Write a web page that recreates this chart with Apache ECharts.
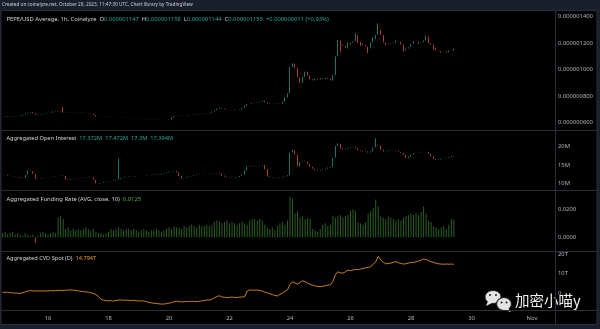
<!DOCTYPE html>
<html>
<head>
<meta charset="utf-8">
<title>PEPE/USD Average, 1h, Coinalyze</title>
<script src="https://cdn.jsdelivr.net/npm/echarts@6/dist/echarts.min.js"></script>
<style>
  html, body { margin: 0; padding: 0; background: #1b1f2b; }
  #chart { width: 600px; height: 329px; }
</style>
</head>
<body>
<div id="chart"></div>
<script>
// Two-hour bars from Oct 14 2023 12:00 UTC to Oct 29 10:00 UTC
const BAR_START = Date.UTC(2023, 9, 14, 12);
const BAR_STEP = 2 * 3600 * 1000;

// PEPE/USD closes, in nano-USD (1e-9 USD)
const pepeOpenFirst = 644;
const pepeClose = [
  645,648,643,646,644,647,650,655,662,670,
  676,680,672,662,658,662,666,670,672,676,
  686,690,684,680,676,678,680,678,679,677,
  678,676,674,673,671,668,658,648,646,645,
  644,643,645,642,641,640,639,637,636,635,
  634,633,632,631,628,627,626,624,622,621,
  620,622,620,619,621,623,625,640,650,652,
  654,656,657,655,658,657,660,662,665,668,
  671,670,675,685,695,705,713,708,702,698,
  696,694,698,696,700,712,728,742,740,748,
  752,756,760,766,755,746,742,741,743,740,
  744,760,790,822,1020,1045,1010,940,900,945,
  985,955,928,920,932,925,935,930,938,932,
  918,960,1100,1220,1190,1180,1165,1190,1205,1215,
  1260,1200,1195,1186,1175,1160,1205,1230,1262,1300,
  1262,1205,1200,1196,1200,1205,1208,1211,1190,1145,
  1160,1170,1195,1207,1205,1210,1206,1220,1250,1200,
  1188,1165,1145,1140,1136,1138,1131,1145,1147,1155
];
// [bar index, high, low] where the wick reaches beyond the body
const pepeWicks = [
  [24,716,null],[115,1048,null],[118,null,897],[133,1224,null],[134,null,1136],
  [137,1205,1160],[140,1274,null],[142,1210,1180],[145,null,1124],[147,1245,null],
  [149,1350,null],[152,null,1185],[156,1220,null],[159,null,1136],[163,1215,null],
  [165,null,1195],[168,1258,null],[171,null,1150],[174,null,1128],[179,1158,1144]
];

// Aggregated open interest closes, millions
const oiOpenFirst = 12.2;
const oiClose = [
  12.2,12.3,12.1,12.0,11.9,11.8,11.7,11.5,11.4,12.3,
  13.5,13.3,12.6,11.2,11.3,11.4,11.5,11.6,11.6,11.7,
  11.8,11.9,12.0,12.1,12.0,11.0,10.9,11.1,11.2,11.3,
  11.4,11.5,11.6,11.7,11.8,11.7,11.0,10.0,9.9,10.1,
  10.3,10.4,10.5,10.6,10.8,11.0,11.1,11.4,11.6,11.8,
  11.9,12.0,11.9,12.0,12.0,12.1,12.1,12.2,12.3,12.2,
  12.4,12.5,12.4,12.6,12.8,13.0,13.2,13.3,13.4,13.0,
  12.0,11.4,11.5,11.7,11.9,12.0,12.2,12.3,12.4,12.4,
  12.5,12.5,12.6,12.6,12.7,12.8,12.6,12.1,11.8,11.6,
  11.5,11.4,11.5,11.7,12.0,12.3,13.5,14.6,14.8,14.7,
  14.6,14.7,14.8,15.0,13.8,11.9,11.7,11.6,11.5,11.4,
  11.5,11.7,11.9,12.2,18.4,19.0,17.8,14.6,15.8,16.0,
  15.9,15.2,14.5,14.0,13.6,13.4,13.6,13.8,14.0,14.3,
  14.5,17.0,20.2,20.8,19.5,19.2,19.4,19.7,19.9,20.0,
  19.6,19.0,18.8,18.6,18.7,18.4,18.7,19.8,20.5,20.3,
  19.2,18.7,18.8,19.0,19.1,19.1,18.9,18.6,18.3,17.8,
  16.9,17.3,17.8,18.2,18.3,18.4,18.5,18.6,18.5,18.0,
  17.3,16.6,16.4,16.5,16.7,16.8,16.9,17.1,17.372,17.394
];
const oiWicks = [
  [46,16.8,null],[115,19.3,null],[133,20.9,null],[148,22.3,null],[179,17.472,17.3]
];

// Aggregated funding rate (AVG, close, 10)
const fundingRate = [
  0.003,0.004,0.002,0.003,0.004,0.002,0.003,0.002,0.001,0.003,
  0.002,0.001,0.002,-0.004,0.001,0.003,0.004,0.003,0.002,0.003,
  0.004,0.003,0.014,0.015,0.013,0.006,0.007,0.005,0.006,0.005,
  0.006,0.005,0.006,0.007,0.006,0.005,0.006,0.004,0.003,0.003,
  0.002,0.003,0.004,0.006,0.005,0.006,0.007,0.006,0.005,0.006,
  0.006,0.005,0.006,0.005,0.004,0.005,0.006,0.005,0.004,0.005,
  0.005,0.006,0.005,0.004,0.005,0.006,0.007,0.006,0.008,0.007,
  0.007,0.006,0.008,0.007,0.008,0.009,0.008,0.007,0.009,0.008,
  0.008,0.009,0.008,0.009,0.011,0.012,0.011,0.010,0.011,0.012,
  0.010,0.011,0.010,0.009,0.010,0.011,0.010,0.009,0.012,0.013,
  0.013,0.012,0.013,0.012,0.009,0.007,0.006,0.007,0.005,0.008,
  0.010,0.011,0.009,0.012,0.029,0.028,0.017,0.019,0.014,0.015,
  0.013,0.014,0.013,0.006,0.005,0.004,0.006,0.009,0.010,0.008,
  0.009,0.015,0.014,0.015,0.016,0.014,0.015,0.016,0.019,0.020,
  0.019,0.011,0.010,0.009,0.011,0.017,0.019,0.021,0.027,0.022,
  0.015,0.014,0.013,0.015,0.014,0.013,0.012,0.013,0.012,0.014,
  0.015,0.016,0.017,0.016,0.017,0.016,0.018,0.022,0.017,0.012,
  0.011,0.008,0.007,0.006,0.007,0.008,0.006,0.009,0.013,0.0125
];

// Aggregated spot CVD, trillions
const cvdSpot = [
  0.6,0.5,0.6,0.4,0.3,0.2,0.1,0.0,0.3,0.8,
  1.2,1.4,1.3,1.2,1.3,1.2,1.3,1.2,1.3,1.4,
  1.3,1.5,1.5,1.6,1.5,1.6,1.7,1.8,1.6,1.5,
  1.3,1.1,0.9,0.8,0.6,0.3,0.0,-0.6,-1.5,-3.0,
  -3.4,-3.6,-3.8,-3.7,-3.9,-3.6,-3.4,-3.3,-3.5,-3.4,
  -3.5,-3.6,-3.5,-3.7,-3.8,-3.9,-3.8,-4.2,-4.6,-4.8,
  -5.0,-5.1,-5.3,-5.4,-5.4,-5.2,-5.0,-4.6,-4.3,-4.0,
  -4.2,-4.3,-4.2,-4.1,-4.2,-4.0,-4.1,-4.2,-4.0,-3.8,
  -3.6,-3.3,-3.4,-3.0,-2.2,-1.6,-1.2,-1.8,-2.0,-2.1,
  -2.0,-1.9,-2.0,-2.1,-1.9,-1.8,-1.7,1.2,1.8,1.7,
  1.6,1.7,1.5,1.2,0.6,0.3,-0.2,-0.6,-1.0,-1.3,
  -0.5,0.2,1.0,1.8,4.5,5.9,5.2,4.8,5.6,6.4,
  6.0,5.2,4.6,4.2,3.8,3.5,3.4,3.6,3.9,4.2,
  4.3,6.0,9.5,11.0,10.4,10.3,11.0,11.8,11.6,11.9,
  12.2,12.0,12.4,12.7,13.0,13.2,13.6,14.8,16.0,18.8,
  17.0,15.8,15.0,15.2,15.4,15.8,16.1,15.6,15.2,14.9,
  15.1,15.4,15.7,15.8,16.0,16.4,16.9,17.4,17.2,16.6,
  16.1,15.7,15.3,15.0,14.9,14.8,14.9,14.8,14.9,14.794
];

// Axis ticks
const dateTicks = [16, 18, 20, 22, 24, 26, 28, 30].map(d => Date.UTC(2023, 9, d)).concat([Date.UTC(2023, 10, 1)]);
const priceTicks = [600, 800, 1000, 1200, 1400];
const oiTicks = [10, 15, 20];
const fundingTicks = [0, 0.02];
const cvdTicks = [0, 10, 20];

const X_MIN = Date.UTC(2023, 9, 14, 11, 30);
const X_MAX = Date.UTC(2023, 10, 1, 18, 15);

const UP = '#26a69a', DOWN = '#ef5350';
const TEXT = '#d1d4dc', AXIS_TEXT = '#b2b5be', FRAME = '#2a2e39';
const FUND_GREEN = '#4caf50', CVD_ORANGE = '#f39c1f', CVD_LINE = '#e08d22';
const FONT = '"Noto Sans", "Open Sans", sans-serif';

// Font size that makes a string span a given pixel width
const measureCtx = document.createElement('canvas').getContext('2d');
function fitSize(text, width) {
  measureCtx.font = '20px ' + FONT;
  return 20 * width / measureCtx.measureText(text).width;
}

const barTime = i => BAR_START + i * BAR_STEP;

function buildCandles(open0, closes, wicks) {
  const ext = {};
  wicks.forEach(([i, h, l]) => { ext[i] = [h, l]; });
  return closes.map((c, i) => {
    const o = i === 0 ? open0 : closes[i - 1];
    const w = ext[i] || [null, null];
    const hi = w[0] != null ? w[0] : Math.max(o, c);
    const lo = w[1] != null ? w[1] : Math.min(o, c);
    return [barTime(i), o, c, lo, hi];
  });
}

const pepeCandles = buildCandles(pepeOpenFirst, pepeClose, pepeWicks);
const oiCandles = buildCandles(oiOpenFirst, oiClose, oiWicks);
const fundingBars = fundingRate.map((v, i) => [barTime(i), v]);
const cvdLine = cvdSpot.map((v, i) => [barTime(i), v]);

const lastPepe = pepeCandles[pepeCandles.length - 1];
const lastOi = oiCandles[oiCandles.length - 1];
const lastFunding = fundingRate[fundingRate.length - 1];
const lastCvd = cvdSpot[cvdSpot.length - 1];

const fmtNano = v => (v / 1e9).toFixed(9);
const fmtM = v => (+v.toFixed(3)) + 'M';

const AXIS_SIZE = fitSize('0.000001400', 35);

function xAxisFor(gridIndex, showLabels) {
  return {
    type: 'value', gridIndex, min: X_MIN, max: X_MAX,
    axisLine: { show: false }, axisTick: { show: false }, splitLine: { show: false },
    axisLabel: {
      show: showLabels, customValues: dateTicks, color: AXIS_TEXT, fontSize: AXIS_SIZE,
      fontFamily: FONT, margin: 5,
      formatter: v => {
        const d = new Date(v);
        return d.getUTCDate() === 1 ? 'Nov' : String(d.getUTCDate());
      }
    }
  };
}

function yAxisFor(gridIndex, min, max, ticks, formatter) {
  return {
    type: 'value', gridIndex, position: 'right', min, max,
    axisLine: { show: false }, axisTick: { show: false }, splitLine: { show: false },
    axisLabel: { customValues: ticks, formatter, color: AXIS_TEXT, fontSize: AXIS_SIZE, fontFamily: FONT, margin: 3 }
  };
}

function lastValueTag(value, text, bg, fg) {
  return {
    symbol: 'none', silent: true, animation: false, z: 20,
    lineStyle: { opacity: 0 },
    label: {
      position: 'end', distance: 0, formatter: text, backgroundColor: bg, color: fg,
      fontSize: AXIS_SIZE, fontFamily: FONT, fontWeight: 'bold', padding: [1, 2, 1, 2]
    },
    data: [{ yAxis: value }]
  };
}

const candleStyle = {
  color: UP, color0: DOWN, borderColor: UP, borderColor0: DOWN, borderWidth: 0.7
};

const hline = y => ({ type: 'line', shape: { x1: 1, y1: y, x2: 597, y2: y }, style: { stroke: FRAME, lineWidth: 1 }, z: 50, silent: true });

// Pane legend: segments of [style key, text]; the whole line is sized to a target width
function title(y, segments, width) {
  const plain = segments.map(s => s[1]).join('');
  const size = fitSize(plain, width);
  const esc = t => t.replace(/[{}|]/g, '');
  const palette = { w: TEXT, g: UP, f: FUND_GREEN, o: CVD_ORANGE };
  const rich = {};
  Object.keys(palette).forEach(k => { rich[k] = { fill: palette[k], fontSize: size, fontFamily: FONT }; });
  return {
    type: 'text', x: 6.5, y, z: 60,
    style: {
      text: segments.map(s => '{' + s[0] + '|' + esc(s[1]) + '}').join(''),
      verticalAlign: 'middle', fontSize: size, fontFamily: FONT, rich
    }
  };
}

const headerText = 'Created on coinalyze.net, October 29, 2023, 11:47:30 UTC, Chart library by TradingView';

const option = {
  animation: false,
  backgroundColor: '#1b1f2b',
  textStyle: { fontFamily: FONT },
  grid: [
    { left: 2, top: 12, width: 553, height: 118 },
    { left: 2, top: 131, width: 553, height: 59 },
    { left: 2, top: 191, width: 553, height: 60 },
    { left: 2, top: 252, width: 553, height: 58 }
  ],
  xAxis: [xAxisFor(0, false), xAxisFor(1, false), xAxisFor(2, false), xAxisFor(3, true)],
  yAxis: [
    yAxisFor(0, 545, 1435, priceTicks, fmtNano),
    yAxisFor(1, 8.17, 24.29, oiTicks, v => v + 'M'),
    yAxisFor(2, -0.0098, 0.0331, fundingTicks, v => v.toFixed(4)),
    yAxisFor(3, -8.43, 21.02, cvdTicks, v => v === 0 ? '0' : v + 'T')
  ],
  series: [
    {
      name: 'PEPE/USD', type: 'candlestick', xAxisIndex: 0, yAxisIndex: 0,
      data: pepeCandles, encode: { x: 0, y: [1, 2, 3, 4] }, barWidth: 1.1,
      itemStyle: candleStyle,
      markLine: lastValueTag(lastPepe[2], fmtNano(lastPepe[2]), UP, '#ffffff')
    },
    {
      name: 'Aggregated Open Interest', type: 'candlestick', xAxisIndex: 1, yAxisIndex: 1,
      data: oiCandles, encode: { x: 0, y: [1, 2, 3, 4] }, barWidth: 1.1,
      itemStyle: candleStyle,
      markLine: lastValueTag(lastOi[2], fmtM(lastOi[2]), UP, '#ffffff')
    },
    {
      name: 'Aggregated Funding Rate', type: 'bar', xAxisIndex: 2, yAxisIndex: 2,
      data: fundingBars, barWidth: 1,
      itemStyle: { color: p => p.value[1] < 0 ? '#b03a36' : '#2a5f20' },
      markLine: lastValueTag(lastFunding, lastFunding.toFixed(4), FUND_GREEN, '#ffffff')
    },
    {
      name: 'Aggregated CVD Spot', type: 'line', xAxisIndex: 3, yAxisIndex: 3,
      data: cvdLine, showSymbol: false, symbol: 'none',
      lineStyle: { color: CVD_LINE, width: 0.9 },
      markLine: lastValueTag(lastCvd, lastCvd.toFixed(3) + 'T', CVD_ORANGE, '#000000')
    }
  ],
  graphic: [
    { type: 'rect', shape: { x: 1, y: 10.5, width: 596, height: 314 }, style: { fill: '#000000', stroke: FRAME, lineWidth: 1 }, z: -100, silent: true },
    hline(130.5), hline(190.5), hline(251.5), hline(310.5),
    { type: 'line', shape: { x1: 555.5, y1: 10.5, x2: 555.5, y2: 324.5 }, style: { stroke: FRAME, lineWidth: 1 }, z: 50, silent: true },
    {
      type: 'text', x: 2, y: 5, z: 60,
      style: { text: headerText, fill: '#c9ccd4', fontSize: fitSize(headerText, 191), fontFamily: FONT, verticalAlign: 'middle' }
    },
    title(19, [
      ['w', 'PEPE/USD Average, 1h, Coinalyze  '],
      ['w', 'O'], ['g', fmtNano(lastPepe[1]) + '  '],
      ['w', 'H'], ['g', fmtNano(lastPepe[4]) + '  '],
      ['w', 'L'], ['g', fmtNano(lastPepe[3]) + '  '],
      ['w', 'C'], ['g', fmtNano(lastPepe[2]) + '  '],
      ['g', '+0.000000011 (+0.93%)']
    ], 323),
    title(138, [
      ['w', 'Aggregated Open Interest  '],
      ['g', fmtM(lastOi[1]) + '  '], ['g', fmtM(lastOi[4]) + '  '],
      ['g', fmtM(lastOi[3]) + '  '], ['g', fmtM(lastOi[2])]
    ], 167),
    title(199, [
      ['w', 'Aggregated Funding Rate (AVG, close, 10)  '], ['f', lastFunding.toFixed(4)]
    ], 135),
    title(258, [
      ['w', 'Aggregated CVD Spot (D)  '], ['o', lastCvd.toFixed(3) + 'T']
    ], 90),
    // WeChat account watermark
    {
      type: 'group', z: 80, silent: true,
      children: [
        { type: 'ellipse', shape: { cx: 493, cy: 297, rx: 8, ry: 6.5 }, style: { fill: '#e4e4e4', stroke: '#1a1a1a', lineWidth: 1 } },
        { type: 'polygon', shape: { points: [[488, 301], [486, 306], [492, 303]] }, style: { fill: '#e4e4e4' } },
        { type: 'circle', shape: { cx: 490, cy: 295, r: 1 }, style: { fill: '#222' } },
        { type: 'circle', shape: { cx: 496, cy: 295, r: 1 }, style: { fill: '#222' } },
        { type: 'ellipse', shape: { cx: 504, cy: 304, rx: 7.5, ry: 6.5 }, style: { fill: '#e4e4e4', stroke: '#1a1a1a', lineWidth: 1.2 } },
        { type: 'polygon', shape: { points: [[508, 308], [511, 312], [504, 310]] }, style: { fill: '#e4e4e4' } },
        { type: 'circle', shape: { cx: 501.5, cy: 302.5, r: 1 }, style: { fill: '#222' } },
        { type: 'circle', shape: { cx: 506.5, cy: 302.5, r: 1 }, style: { fill: '#222' } },
        {
          type: 'text', x: 515, y: 300,
          style: {
            text: '加密小喵y', fill: '#f2f2f2', fontSize: 14.5, fontFamily: '"Noto Sans CJK SC", sans-serif',
            verticalAlign: 'middle', textShadowColor: 'rgba(0,0,0,0.8)', textShadowBlur: 2
          }
        }
      ]
    }
  ]
};

const chart = echarts.init(document.getElementById('chart'), null, { renderer: 'canvas' });
chart.setOption(option);
</script>
</body>
</html>
